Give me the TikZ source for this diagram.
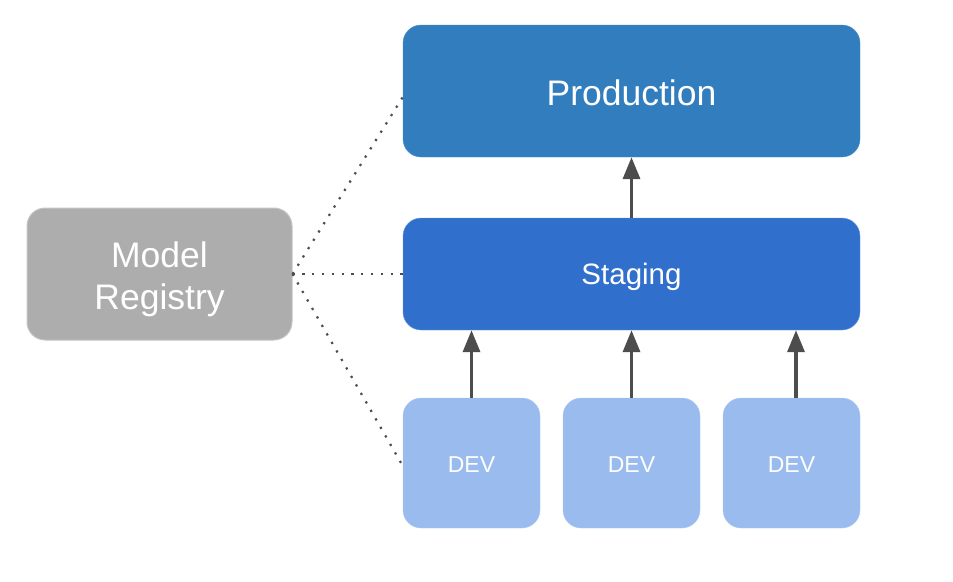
\documentclass[tikz,border=0pt]{standalone}
\usepackage{fontspec}
\setmainfont{Liberation Sans}
\usetikzlibrary{arrows.meta}
\definecolor{prodc}{RGB}{49,125,189}
\definecolor{stagc}{RGB}{48,112,204}
\definecolor{devc}{RGB}{153,187,238}
\definecolor{regc}{RGB}{173,173,173}
\definecolor{arrc}{RGB}{77,77,77}
\begin{document}
\begin{tikzpicture}[x=1pt,y=-1pt,
  box/.style={rounded corners=18pt,text=white,align=center,inner sep=0pt},
  devbox/.style={box,fill=devc,draw=devc!80!white,minimum width=137pt,minimum height=130pt},
  devtext/.style={text=white,inner sep=0pt,font=\fontsize{23}{26}\selectfont},
  uparrow/.style={draw=arrc,line width=3.5pt,-{Triangle[length=22pt,width=17pt]}},
  dotline/.style={draw=arrc,line width=2.2pt,dash pattern=on 2.2pt off 7.6pt}]
\useasboundingbox (0,0) rectangle (953,581);
\node[box,fill=prodc,draw=prodc!85!white,minimum width=457pt,minimum height=132pt] (prod) at (631.5,91) {};
\node[text=white,inner sep=0pt,font=\fontsize{35.5}{40}\selectfont] (prodt) at (631.5,93) {Production};
\node[box,fill=stagc,draw=stagc!70!white,minimum width=457pt,minimum height=112pt] (stag) at (631.5,274) {};
\node[text=white,inner sep=0pt,font=\fontsize{29.5}{34}\selectfont] (stagt) at (631.5,277) {Staging};
\node[devbox] (dev1) at (471.5,463) {};
\node[devbox] (dev2) at (631.5,463) {};
\node[devbox] (dev3) at (791.5,463) {};
\node[devtext] (dev1t) at (471.5,465) {DEV};
\node[devtext] (dev2t) at (631.5,465) {DEV};
\node[devtext] (dev3t) at (791.5,465) {DEV};
\node[box,fill=regc,draw=regc!70!white,line width=1pt,minimum width=265pt,minimum height=132pt] (reg) at (159.5,274) {};
\node[text=white,align=center,inner sep=0pt,font=\fontsize{35.5}{42}\selectfont] (regt) at (159.5,279) {Model\\Registry};
\draw[uparrow] (stag.north -| prod.south) -- (prod.south);
\draw[uparrow] (dev1.north) -- (dev1.north |- stag.south);
\draw[uparrow] (dev2.north) -- (dev2.north |- stag.south);
\draw[uparrow] ([xshift=4.5pt]dev3.north) -- ([xshift=4.5pt]dev3.north |- stag.south);
\draw[dotline] (reg.east) -- (prod.west |- 0,97);
\draw[dotline] (reg.east) -- (stag.west);
\draw[dotline] (reg.east) -- ([yshift=-3pt]dev1.west);
\end{tikzpicture}
\end{document}
